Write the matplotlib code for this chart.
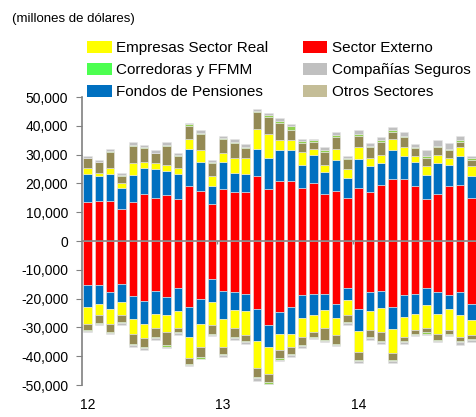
"""Stacked monthly positions by sector, positive and negative side (millones de dolares)"""

import numpy as np
import matplotlib
matplotlib.use("Agg")
import matplotlib.pyplot as plt
from matplotlib.patches import Patch

plt.rcParams['font.family'] = ['Liberation Sans', 'DejaVu Sans']

# months Jan 2012 .. Nov 2014
N_BARS = 35
YEAR_LABELS = ["12", "13", "14"]

# positive side, thousands of USD millions
POS_EXTERNO = [13.4, 14.0, 14.0, 11.1, 13.4, 16.4, 14.9, 16.1, 14.6, 19.0, 17.5, 13.0,
               18.1, 17.0, 17.0, 22.5, 18.1, 20.9, 20.9, 18.5, 20.0, 16.4, 17.5, 14.9,
               18.5, 17.0, 19.6, 21.5, 21.5, 19.0, 14.6, 16.4, 19.0, 19.6, 15.0]
POS_PENSIONES = [10.0, 8.6, 9.4, 7.4, 9.5, 9.1, 10.1, 8.3, 8.8, 12.9, 9.9, 6.1,
                 9.3, 6.5, 6.4, 9.4, 10.8, 10.6, 10.6, 8.0, 9.9, 7.6, 10.5, 7.1,
                 10.0, 9.0, 7.4, 10.0, 8.0, 8.4, 8.3, 10.6, 7.5, 9.9, 7.6]
POS_REAL = [2.1, 0.9, 2.1, 1.5, 4.1, 1.8, 2.0, 2.0, 1.9, 3.6, 4.1, 3.5,
            3.0, 5.4, 5.5, 7.1, 8.1, 3.5, 3.5, 4.5, 2.0, 2.5, 3.9, 3.0,
            4.0, 2.9, 3.0, 4.0, 3.0, 2.1, 3.1, 3.0, 2.4, 3.0, 3.4]
POS_OTROS = [3.2, 3.8, 5.5, 2.6, 6.1, 5.1, 3.4, 6.7, 4.3, 4.5, 5.5, 4.4,
             5.0, 5.2, 3.5, 5.7, 6.1, 6.1, 3.5, 3.1, 2.6, 4.5, 4.1, 3.5,
             4.1, 3.6, 4.5, 2.5, 3.5, 2.7, 2.9, 2.5, 2.6, 2.0, 2.0]
POS_CORREDORAS = [0.2, 0.2, 0.4, 0.3, 0.4, 0.3, 0.3, 0.4, 0.3, 0.5, 0.4, 0.4,
                  0.3, 0.4, 0.3, 0.4, 0.7, 0.5, 1.5, 0.5, 0.5, 0.5, 0.8, 0.5,
                  0.5, 0.5, 0.5, 0.7, 0.6, 0.5, 0.5, 0.5, 0.5, 0.5, 0.9]
POS_SEGUROS = [0.6, 0.8, 0.5, 0.6, 0.8, 0.6, 0.8, 1.0, 0.5, 0.5, 1.0, 0.6,
               0.6, 0.9, 1.0, 0.8, 0.7, 1.0, 0.5, 1.0, 0.6, 1.0, 1.2, 0.5,
               1.4, 1.0, 1.0, 1.0, 1.4, 0.9, 2.1, 2.0, 2.0, 1.5, 0.6]

# negative side
NEG_EXTERNO = [-15.3, -15.3, -17.8, -14.8, -19.2, -20.8, -17.4, -19.3, -16.4, -22.8, -20.3, -13.2,
               -17.4, -17.8, -18.4, -23.7, -29.2, -24.8, -22.8, -18.8, -18.4, -18.4, -21.9, -16.4,
               -23.7, -17.8, -17.4, -22.8, -18.8, -18.4, -16.4, -17.8, -18.8, -17.8, -21.9]
NEG_PENSIONES = [-7.5, -6.7, -5.9, -6.5, -8.0, -8.1, -7.9, -6.5, -7.9, -10.5, -8.6, -8.1,
                 -9.8, -6.0, -5.9, -11.0, -7.5, -7.5, -9.5, -7.9, -7.3, -5.6, -5.0, -4.0,
                 -7.5, -6.5, -5.9, -7.9, -7.5, -6.9, -5.8, -7.5, -4.9, -7.9, -5.4]
NEG_REAL = [-6.1, -3.8, -5.1, -4.4, -5.2, -4.9, -5.0, -5.9, -6.0, -7.4, -7.9, -7.9,
            -9.6, -6.5, -8.3, -9.5, -9.5, -5.5, -4.6, -6.6, -6.0, -6.3, -5.7, -5.3,
            -7.5, -6.6, -8.4, -8.1, -7.0, -5.6, -8.1, -7.0, -7.2, -7.6, -5.3]
NEG_OTROS = [-2.1, -2.6, -2.8, -2.5, -3.2, -3.0, -3.1, -4.5, -1.4, -2.0, -3.5, -3.0,
             -2.4, -3.0, -2.1, -2.9, -2.9, -2.9, -2.3, -2.8, -1.6, -4.1, -3.0, -2.5,
             -2.5, -2.4, -3.0, -2.5, -1.4, -1.4, -1.4, -2.1, -1.4, -1.4, -1.5]
NEG_CORREDORAS = [-0.3, -0.3, -0.3, -0.4, -0.4, -0.4, -0.4, -0.5, -0.3, -0.3, -0.5, -0.4,
                  -0.5, -0.5, -0.4, -0.5, -0.5, -0.6, -0.5, -0.5, -0.5, -0.3, -0.4, -0.4,
                  -0.5, -0.5, -0.5, -0.5, -0.5, -0.3, -0.5, -0.4, -0.3, -0.5, -0.4]
NEG_SEGUROS = [-0.4, -0.4, -0.5, -0.6, -0.7, -0.5, -0.5, -0.6, -0.5, -0.4, -0.3, -0.5,
               -0.5, -0.5, -0.5, -0.9, -0.4, -0.5, -0.5, -0.4, -0.3, -0.5, -0.5, -0.6,
               -0.5, -0.5, -0.4, -0.4, -0.4, -0.5, -0.4, -0.4, -0.5, -0.9, -0.5]

# stacking order seen on the bars, from zero outwards
BAR_COLORS = ["#FF0000", "#0070C0", "#FFFF00", "#948A54", "#92D050", "#C0C0C0"]
POS_SERIES = [POS_EXTERNO, POS_PENSIONES, POS_REAL, POS_OTROS, POS_CORREDORAS, POS_SEGUROS]
NEG_SERIES = [NEG_EXTERNO, NEG_PENSIONES, NEG_REAL, NEG_OTROS, NEG_CORREDORAS, NEG_SEGUROS]

# legend as printed in the source (column by column)
LEGEND_LABELS = ["Empresas Sector Real", "Corredoras y FFMM", "Fondos de Pensiones",
                 "Sector Externo", "Compañías Seguros", "Otros Sectores"]
LEGEND_COLORS = ["#FFFF00", "#4CFF50", "#0070C0", "#FF0000", "#C0C0C0", "#C4BD97"]

fig = plt.figure(figsize=(4.76, 4.17), dpi=100)
ax = fig.add_axes([0.1723, 0.0767, 0.8277, 0.6906])

x = np.arange(N_BARS)
for series_list in (POS_SERIES, NEG_SERIES):
    bottom = np.zeros(N_BARS)
    for vals, col in zip(series_list, BAR_COLORS):
        v = np.asarray(vals) * 1000
        ax.bar(x, v, width=0.75, bottom=bottom, color=col, edgecolor="#E6E6E6",
               linewidth=0.4, zorder=2)
        bottom += v

ax.set_xlim(-0.5, 34.4)
ax.set_ylim(-50000, 50000)
ax.set_yticks(np.arange(-50000, 50001, 10000))
ax.yaxis.set_major_formatter(plt.FuncFormatter(lambda v, p: f"{int(v):,}"))
ax.tick_params(axis="y", direction="out", length=4, color="#808080",
               labelsize=10, pad=6)

# zero line with year separators
ax.axhline(0, color="#868686", lw=1.2, zorder=3)
ax.vlines([11.5, 23.5], -900, 0, color="#868686", lw=1, zorder=3)

ax.set_xticks([0, 12, 24])
ax.set_xticklabels(YEAR_LABELS, fontsize=10)
ax.tick_params(axis="x", length=0, pad=9)

for s in ["top", "right", "bottom"]:
    ax.spines[s].set_visible(False)
ax.spines["left"].set_color("#808080")
ax.spines["left"].set_linewidth(1.2)

fig.text(0.025, 0.955, "(millones de dólares)", fontsize=9.5, va="center", ha="left")

handles = [Patch(facecolor=c, edgecolor="none") for c in LEGEND_COLORS]
fig.legend(handles, LEGEND_LABELS, ncol=2, loc="upper left",
           bbox_to_anchor=(0.1835, 0.902), frameon=False, fontsize=11,
           handlelength=1.6, handleheight=0.85, handletextpad=0.3,
           columnspacing=2.25, labelspacing=0.5, borderpad=0, borderaxespad=0)

fig.savefig("out.png", dpi=100)
